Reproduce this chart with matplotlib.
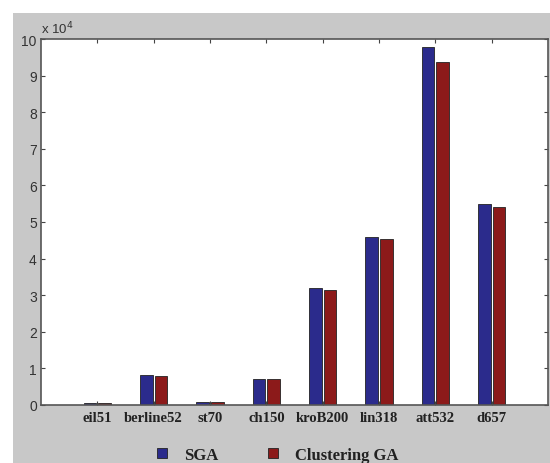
import matplotlib
matplotlib.use("Agg")
import matplotlib.pyplot as plt
from matplotlib.patches import Rectangle
import numpy as np

categories = ["eil51", "berline52", "st70", "ch150", "kroB200", "lin318", "att532", "d657"]
sga = [450, 8200, 720, 7200, 32000, 46000, 97700, 54900]
clustering_ga = [440, 8000, 700, 7000, 31500, 45300, 93700, 54000]
yticks = list(range(0, 11))

W, H = 550, 464
fig = plt.figure(figsize=(W / 100, H / 100), dpi=100)
fig.patch.set_facecolor("white")
fig.patches.append(Rectangle((13 / W, 0), 1, (H - 14) / H, transform=fig.transFigure,
                             facecolor="#c8c8c8", edgecolor="none", zorder=-10))

ax = fig.add_axes([41 / W, (H - 406) / H, (548 - 41) / W, (406 - 40) / H])
ax.set_facecolor("white")
x = np.arange(1, len(categories) + 1)
scale = 1e4
w = 0.22
ax.bar(x - 0.13, np.array(sga) / scale, w, color="#2b2b8c", edgecolor="#222222", linewidth=0.6, label="SGA")
ax.bar(x + 0.13, np.array(clustering_ga) / scale, w, color="#8c1a1a", edgecolor="#222222", linewidth=0.6, label="Clustering GA")

ax.set_xlim(0, 9)
ax.set_ylim(0, 10)
ax.set_yticks(yticks)
ax.set_yticklabels([str(t) for t in yticks], fontsize=10, color="#333333", family="Liberation Sans")
ax.set_xticks(x)
ax.set_xticklabels(categories, fontsize=10.5, fontweight="bold", family="Liberation Serif", color="#222222")
ax.tick_params(direction="in", top=True, right=True, length=3, color="#444444", width=0.8)
ax.tick_params(axis="x", pad=4)
ax.tick_params(axis="y", pad=3)
for s in ax.spines.values():
    s.set_color("#555555")
    s.set_linewidth(1.2)

fig.text(41 / W, (H - 29) / H, r"x 10$^4$", fontsize=9.5, color="#333333", va="center", ha="left",
         family="Liberation Sans")

leg = fig.legend(loc="center", bbox_to_anchor=(0.505, (H - 456) / H), ncol=2, frameon=False,
                 prop={"family": "Liberation Serif", "weight": "bold", "size": 12},
                 handlelength=0.6, handleheight=0.6, columnspacing=3.0, handletextpad=1.0)
for t in leg.get_texts():
    t.set_color("#222222")

fig.savefig("out.png", dpi=100, facecolor=fig.get_facecolor())
